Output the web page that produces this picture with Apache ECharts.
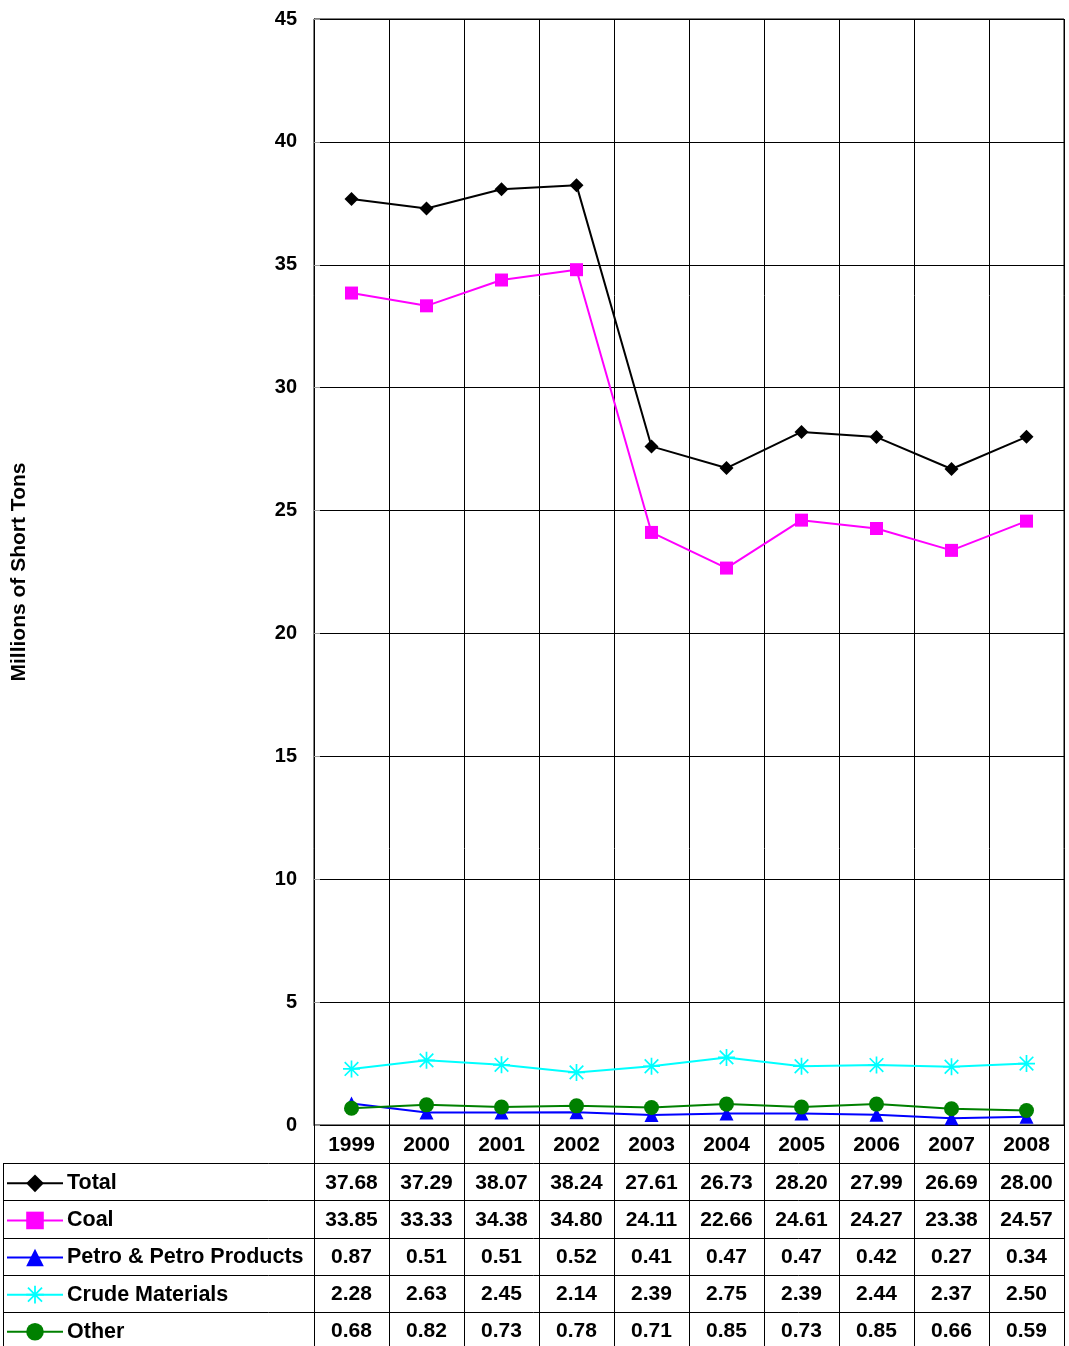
<!DOCTYPE html>
<html>
<head>
<meta charset="utf-8">
<script src="https://cdn.jsdelivr.net/npm/echarts@6/dist/echarts.min.js"></script>
<style>
html,body{margin:0;padding:0;background:#fff;}
#chart{width:1069px;height:1346px;}
</style>
</head>
<body>
<div id="chart"></div>
<script>
const years = ['1999','2000','2001','2002','2003','2004','2005','2006','2007','2008'];
const total = [37.68,37.29,38.07,38.24,27.61,26.73,28.20,27.99,26.69,28.00];
const coal = [33.85,33.33,34.38,34.80,24.11,22.66,24.61,24.27,23.38,24.57];
const petro = [0.87,0.51,0.51,0.52,0.41,0.47,0.47,0.42,0.27,0.34];
const crude = [2.28,2.63,2.45,2.14,2.39,2.75,2.39,2.44,2.37,2.50];
const other = [0.68,0.82,0.73,0.78,0.71,0.85,0.73,0.85,0.66,0.59];
const seriesNames = ['Total','Coal','Petro & Petro Products','Crude Materials','Other'];
const yTicks = {min:0, max:45, interval:5};

const FONT = 'Liberation Sans, Arial, sans-serif';
const asterisk = 'path://M9 0L11 0L11 20L9 20Z M0 9L20 9L20 11L0 11Z M1.3 2.7L2.7 1.3L18.7 17.3L17.3 18.7Z M17.3 1.3L18.7 2.7L2.7 18.7L1.3 17.3Z';

const seriesData = [total, coal, petro, crude, other];
const colors = ['#000000','#FF00FF','#0000FF','#00FFFF','#008000'];
const symbols = ['diamond','rect','triangle',asterisk,'circle'];
const symSizes = [14,13,14,17,15];

const chart = echarts.init(document.getElementById('chart'), null, {renderer:'canvas'});

const gridTop = 19, gridBottom = 221, H = 1346;
const axisY = H - gridBottom; // 1125
const rowH = 37.1;
const rowTop0 = 1163.3;
const legH = 22;

const rowAxes = seriesData.map((vals, k) => ({
  type:'category', gridIndex:0, position:'bottom', data:years,
  boundaryGap:true,
  axisLine:{show:false}, axisTick:{show:false}, splitLine:{show:false},
  axisLabel:{
    interval:0, margin: (rowTop0 - axisY) + rowH*k + rowH/2 + 1,
    verticalAlign:'middle',
    fontFamily:FONT, fontWeight:'bold', fontSize:21, color:'#000',
    formatter:(v, i) => vals[i].toFixed(2)
  }
}));

const legends = seriesNames.map((n, k) => ({
  orient:'horizontal', left:6, top: rowTop0 + rowH*k + (rowH-legH)/2 + 1.5,
  padding:0, itemWidth:56, itemHeight:legH, itemGap:4,
  selectedMode:false,
  lineStyle:{width:2},
  textStyle:{fontFamily:FONT, fontWeight:'bold', fontSize:21.5, color:'#000', lineHeight:legH, padding:[0,0,0,-1]},
  data:[n]
}));

const graphics = [];
graphics.push({type:'line', shape:{x1:3.5,y1:rowTop0,x2:3.5,y2:H}, style:{stroke:'#000',lineWidth:1}});
for (let k=0;k<5;k++){
  const y = Math.round(rowTop0 + rowH*k) + 0.5;
  graphics.push({type:'line', shape:{x1:3,y1:y,x2:1064,y2:y}, style:{stroke:'#000',lineWidth:1}});
}

const option = {
  animation:false,
  backgroundColor:'#fff',
  textStyle:{fontFamily:FONT},
  grid:{left:314, right:5, top:gridTop, bottom:gridBottom, show:true, borderColor:'#000', borderWidth:1},
  legend:legends,
  xAxis:[{
    type:'category', gridIndex:0, position:'bottom', data:years, boundaryGap:true,
    axisLine:{show:true, lineStyle:{color:'#000', width:1}},
    axisTick:{show:true, length:H-axisY, interval:0, lineStyle:{color:'#000', width:1}},
    splitLine:{show:true, interval:0, lineStyle:{color:'#000', width:1}},
    axisLabel:{interval:0, margin:(rowTop0-axisY)/2 + 1, verticalAlign:'middle', fontFamily:FONT, fontWeight:'bold', fontSize:21, color:'#000'}
  }].concat(rowAxes),
  yAxis:{
    type:'value', min:yTicks.min, max:yTicks.max, interval:yTicks.interval,
    name:'Millions of Short Tons', nameLocation:'middle', nameGap:284, nameRotate:90,
    nameTextStyle:{fontFamily:FONT, fontWeight:'bold', fontSize:21, color:'#000'},
    axisLine:{show:true, lineStyle:{color:'#000'}},
    axisTick:{show:true, inside:true, length:6, lineStyle:{color:'#999'}},
    splitLine:{show:true, lineStyle:{color:'#000', width:1}},
    axisLabel:{margin:17, padding:[2,0,0,0], fontFamily:FONT, fontWeight:'bold', fontSize:20, color:'#000'}
  },
  series: seriesNames.map((n, i) => ({
    name:n, type:'line', xAxisIndex:0, data:seriesData[i],
    symbol:symbols[i], symbolSize:symSizes[i], showAllSymbol:true,
    lineStyle:{color:colors[i], width:2},
    itemStyle:{color:colors[i]},
    emphasis:{disabled:true}
  })),
  graphic:graphics
};
chart.setOption(option);
</script>
</body>
</html>
